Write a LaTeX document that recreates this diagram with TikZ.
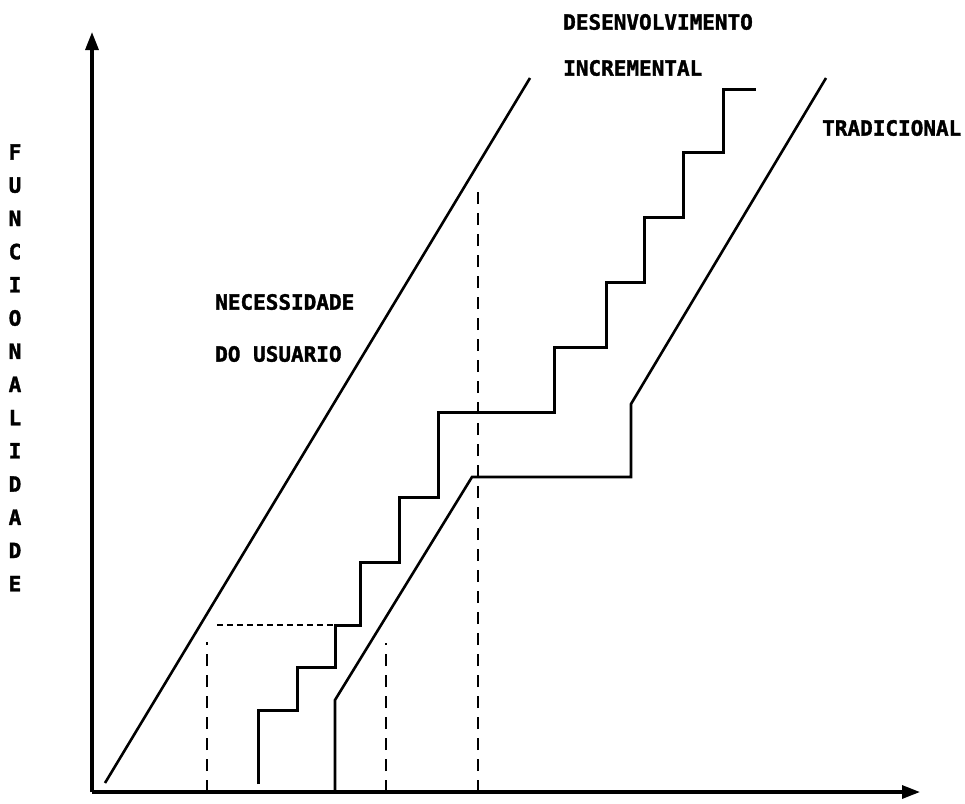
\documentclass[tikz,border=0pt]{standalone}
\usepackage{fontspec}
\newfontfamily\labelfont{DejaVu Sans Mono Bold}[FakeBold=1.6]
\usetikzlibrary{arrows.meta}
\begin{document}
\begin{tikzpicture}[x=1pt,y=-1pt,
  axis/.style={line width=3.2pt,-{Triangle[length=18pt,width=13pt]}},
  trend/.style={line width=2.6pt},
  stairs/.style={line width=3pt,line join=miter},
  guide/.style={line width=2.6pt,dash pattern=on 12pt off 9pt},
  guideh/.style={line width=2.6pt,dash pattern=on 6pt off 4pt},
  lbl/.style={anchor=west,inner sep=0pt,font=\labelfont\fontsize{21}{21}\selectfont},
  vlet/.style={inner sep=0pt,font=\labelfont\fontsize{21}{21}\selectfont}]
\useasboundingbox (0,0) rectangle (965,803);

% axes
\coordinate (O) at (92,792);
\coordinate (Ytop) at (92,32);
\coordinate (Xend) at (920,792);
\draw[axis] (O) -- (Ytop);
\draw[axis] (O) -- (Xend);

% user need
\coordinate (n0) at (105,783);
\coordinate (n1) at (530,78);
\draw[trend] (n0) -- (n1);

% traditional development
\coordinate (t0) at (335,792);
\coordinate (t1) at (335,700);
\coordinate (t2) at (472,477);
\coordinate (t3) at (631,477);
\coordinate (t4) at (631,404);
\coordinate (t5) at (826,78);
\draw[trend,line join=miter] (t0) -- (t1) -- (t2) -- (t3) -- (t4) -- (t5);

% incremental development
\coordinate (s0) at (258,784);
\draw[stairs] (s0) |- (297,710) |- (335,667) |- (360,625) |- (399,562)
  |- (438,497) |- (554,412) |- (606,347) |- (644,282) |- (683,217)
  |- (723,152) |- (756,89);

% guide lines
\coordinate (g1b) at (207,792); \coordinate (g1t) at (207,642);
\coordinate (g2b) at (386,792); \coordinate (g2t) at (386,643);
\coordinate (g3b) at (478,792); \coordinate (g3t) at (478,190);
\coordinate (h0) at (217,625); \coordinate (h1) at (335,625);
\draw[guide] (g1b) -- (g1t);
\draw[guide] (g2b) -- (g2t);
\draw[guide] (g3b) -- (g3t);
\draw[guideh] (h0) -- (h1);

% labels
\node[lbl] (desenv) at (563,22) {DESENVOLVIMENTO};
\node[lbl] (incr) at (563,68) {INCREMENTAL};
\node[lbl] (trad) at (822,128) {TRADICIONAL};
\node[lbl] (nec) at (215,302) {NECESSIDADE};
\node[lbl] (usu) at (215,354) {DO USUARIO};

% vertical axis title
\foreach \ch [count=\i from 0] in {F,U,N,C,I,O,N,A,L,I,D,A,D,E}
  \node[vlet] (v\i) at (15,152+33.2*\i) {\ch};
\end{tikzpicture}
\end{document}
